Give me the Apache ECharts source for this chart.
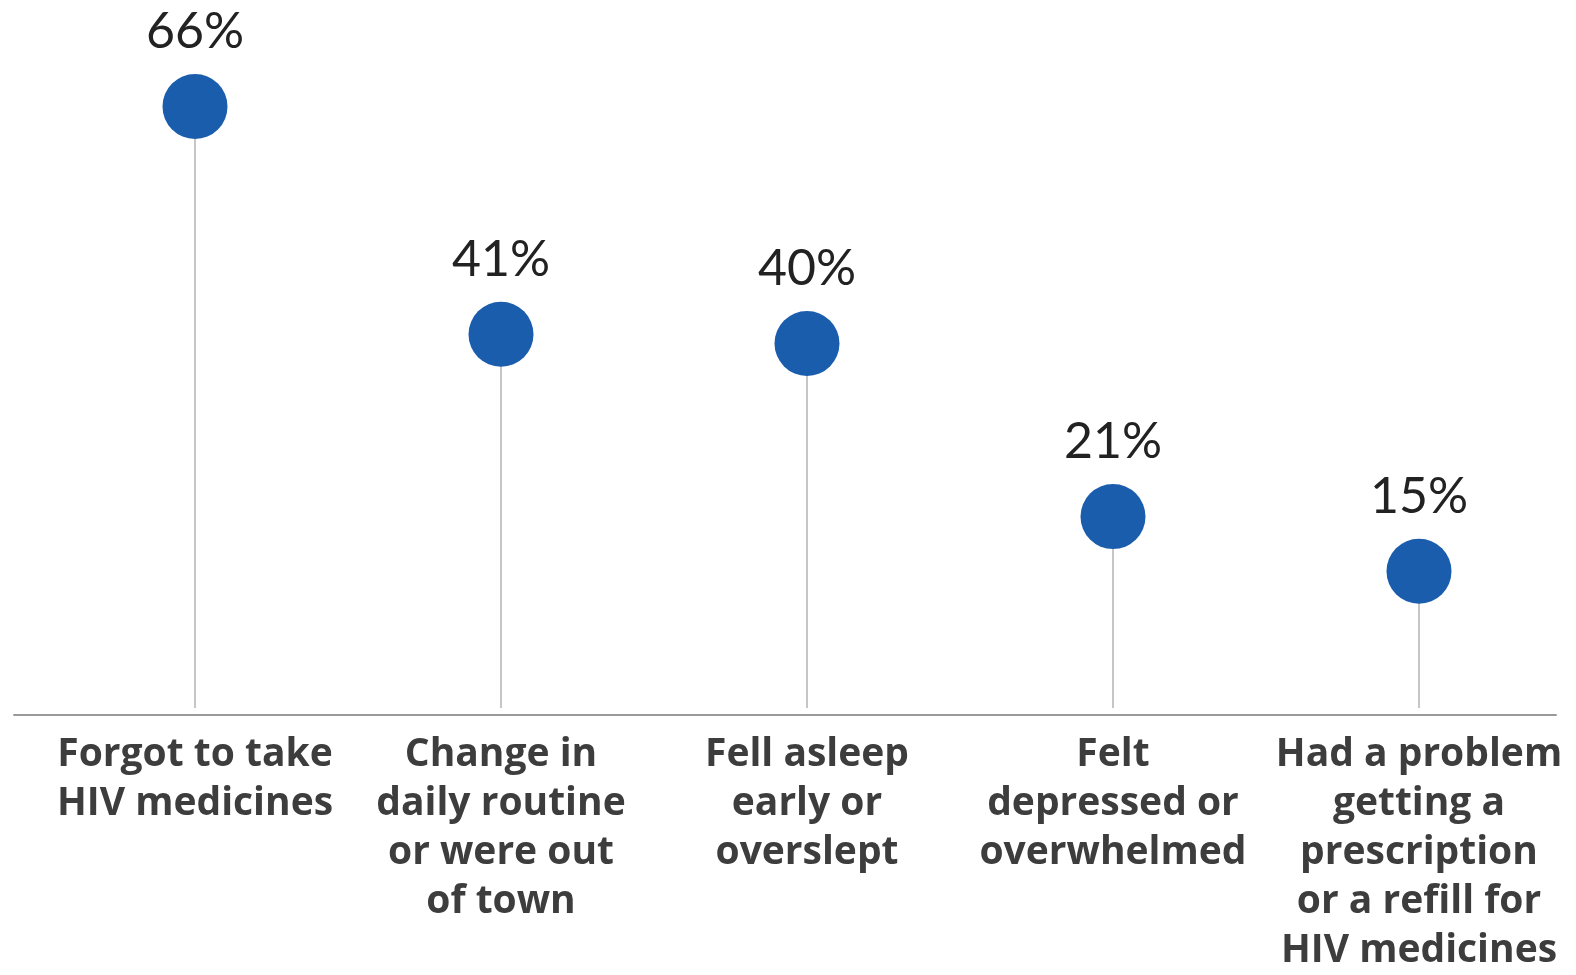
<!DOCTYPE html>
<html>
<head>
<meta charset="utf-8">
<script src="https://cdn.jsdelivr.net/npm/echarts@6/dist/echarts.min.js"></script>
<style>
html,body{margin:0;padding:0;background:#fff;}
#chart{width:1576px;height:975px;}
</style>
</head>
<body>
<div id="chart"></div>
<script>
const categories = [
  "Forgot to take\nHIV medicines",
  "Change in\ndaily routine\nor were out\nof town",
  "Fell asleep\nearly or\noverslept",
  "Felt\ndepressed or\noverwhelmed",
  "Had a problem\ngetting a\nprescription\nor a refill for\nHIV medicines"
];
const values = [66, 41, 40, 21, 15];

const chart = echarts.init(document.getElementById('chart'));
chart.setOption({
  animation: false,
  backgroundColor: '#ffffff',
  grid: [
    {left: 42, right: 4, top: 70, bottom: 260},
    {left: 14, right: 20, top: 70, bottom: 260}
  ],
  xAxis: [
    {
      type: 'category', data: categories, gridIndex: 0,
      axisLine: {show: false}, axisTick: {show: false},
      axisLabel: {
        interval: 0, margin: 22,
        fontFamily: 'Open Sans', fontWeight: 'bold', fontSize: 39,
        lineHeight: 49, color: '#3d3d3d', align: 'center'
      }
    },
    {
      type: 'value', gridIndex: 1, min: 0, max: 1,
      axisLine: {show: true, lineStyle: {color: '#9a9a9a', width: 2}},
      axisTick: {show: false}, axisLabel: {show: false}, splitLine: {show: false}
    }
  ],
  yAxis: [
    {type: 'value', gridIndex: 0, min: 0, max: 70, show: false, splitLine: {show: false}},
    {type: 'value', gridIndex: 1, min: 0, max: 1, show: false, splitLine: {show: false}}
  ],
  series: [
    {
      type: 'bar', data: values, barWidth: 2,
      itemStyle: {color: '#c6c6c6'}, silent: true
    },
    {
      type: 'scatter', data: values, symbol: 'circle', symbolSize: 65,
      itemStyle: {color: '#1a5dad', opacity: 1},
      label: {
        show: true, position: 'top', distance: 17,
        formatter: p => p.value + '%',
        fontFamily: 'Lato', fontWeight: 'normal', fontSize: 50, color: '#222222'
      },
      z: 5
    }
  ]
});
</script>
</body>
</html>
